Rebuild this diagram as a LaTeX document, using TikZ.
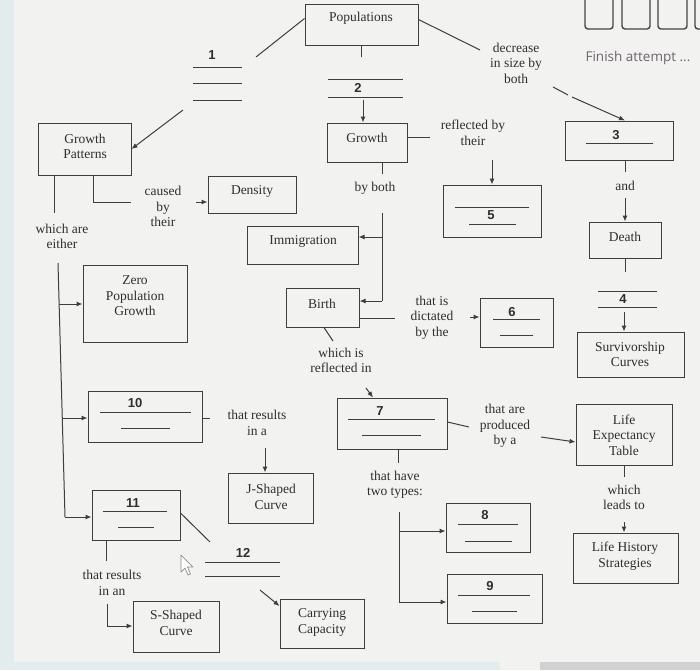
\documentclass[tikz,border=0pt]{standalone}
\usepackage{fontspec}
\setmainfont{Liberation Serif}
\newfontfamily\numfont{Liberation Sans}
\newfontfamily\uifont{Open Sans}
\usetikzlibrary{arrows.meta}
\definecolor{bg}{HTML}{F2F2F0}
\definecolor{linec}{HTML}{3E3E3E}
\definecolor{txtc}{HTML}{2E2E2E}
\definecolor{uic}{HTML}{6E6470}
\definecolor{strip}{HTML}{E3ECEC}
\definecolor{navc}{HTML}{444444}
\begin{document}
\begin{tikzpicture}[x=1pt,y=-1pt,
 box/.style={draw=linec,line width=1pt,inner sep=0pt},
 txt/.style={text=txtc,align=center,inner sep=0pt,font=\fontsize{13.5}{15.5}\selectfont},
 num/.style={text=txtc,inner sep=0pt,font=\numfont\bfseries\fontsize{13}{15}\selectfont},
 ln/.style={draw=linec,line width=1pt},
 arr/.style={ln,-{Latex[length=6pt,width=5pt]}},
 blank/.style={draw=linec,line width=0.9pt},
 nav/.style={draw=navc,line width=1.4pt,rounded corners=3pt},
]
\useasboundingbox (0,0) rectangle (700,670);
\fill[bg] (0,0) rectangle (700,670);
\fill[strip] (0,0) rectangle (14,670);
\fill[strip] (0,662) rectangle (500,670);
\fill[black!18] (540,662) rectangle (700,670);

% quiz overlay
\draw[nav] (585,-6) rectangle (613,29);
\draw[nav] (622,-6) rectangle (650,29);
\draw[nav] (658,-6) rectangle (687,29);
\draw[nav] (695,-6) rectangle (712,29);
\node[text=uic,inner sep=0pt,font=\uifont\fontsize{13.5}{15}\selectfont] (finish) at (638,58) {Finish attempt ...};

% boxes
\node[box,minimum width=113pt,minimum height=41pt] (pop) at (361.5,24.5) {};
\node[txt] (popt) at (361,18) {Populations};
\node[box,minimum width=93pt,minimum height=52pt] (gp) at (84.5,149) {};
\node[txt] (gpt) at (85,146.5) {Growth\\Patterns};
\node[box,minimum width=80pt,minimum height=39pt] (growth) at (367,142.5) {};
\node[txt] (growtht) at (367,138) {Growth};
\node[box,minimum width=88pt,minimum height=37pt] (density) at (252,194.5) {};
\node[txt] (densityt) at (252,191) {Density};
\node[box,minimum width=111pt,minimum height=38pt] (immig) at (302.5,245) {};
\node[txt] (immigt) at (303,241) {Immigration};
\node[box,minimum width=73pt,minimum height=39pt] (birth) at (322.5,307.5) {};
\node[txt] (birtht) at (322,304) {Birth};
\node[box,minimum width=104pt,minimum height=77pt] (zpg) at (135,303.5) {};
\node[txt] (zpgt) at (135,296) {Zero\\Population\\Growth};
\node[box,minimum width=114pt,minimum height=51pt] (b10) at (145,416.5) {};
\node[box,minimum width=85pt,minimum height=50pt] (jshape) at (270.5,498) {};
\node[txt] (jshapet) at (271,497) {J-Shaped\\Curve};
\node[box,minimum width=88pt,minimum height=50pt] (b11) at (136,515) {};
\node[box,minimum width=84pt,minimum height=49pt] (carry) at (322,623.5) {};
\node[txt] (carryt) at (322,622.5) {Carrying\\Capacity};
\node[box,minimum width=86pt,minimum height=51pt] (sshape) at (176,626.5) {};
\node[txt] (sshapet) at (176,623) {S-Shaped\\Curve};
\node[box,minimum width=108pt,minimum height=39pt] (b3) at (619,140.5) {};
\node[box,minimum width=72pt,minimum height=36pt] (death) at (625,240) {};
\node[txt] (deatht) at (625,237) {Death};
\node[box,minimum width=98pt,minimum height=52pt] (b5) at (492,211) {};
\node[box,minimum width=73pt,minimum height=49pt] (b6) at (516.5,322.5) {};
\node[box,minimum width=107pt,minimum height=45pt] (surv) at (630.5,354.5) {};
\node[txt] (survt) at (630,354.5) {Survivorship\\Curves};
\node[box,minimum width=110pt,minimum height=51pt] (b7) at (392,423.5) {};
\node[box,minimum width=96pt,minimum height=61pt] (let) at (624,434.5) {};
\node[txt] (lett) at (624,435) {Life\\Expectancy\\Table};
\node[box,minimum width=105pt,minimum height=50pt] (lhs) at (625.5,558) {};
\node[txt] (lhst) at (625,556) {Life History\\Strategies};
\node[box,minimum width=84pt,minimum height=49pt] (b8) at (488,527.5) {};
\node[box,minimum width=95pt,minimum height=49pt] (b9) at (494.5,598.5) {};

% numbered blanks inside boxes
\node[num] (n3) at (616,135) {3};
\draw[blank] (586,143) -- (653,143);
\node[num] (n5) at (491,215) {5};
\draw[blank] (455,207) -- (529,207);
\draw[blank] (469,224) -- (516,224);
\node[num] (n6) at (512,312) {6};
\draw[blank] (493,319) -- (540,319);
\draw[blank] (500,335) -- (533,335);
\node[num] (n7) at (380,411) {7};
\draw[blank] (348,419) -- (435,419);
\draw[blank] (362,435) -- (421,435);
\node[num] (n8) at (485,515) {8};
\draw[blank] (458,524) -- (518,524);
\draw[blank] (465,541) -- (512,541);
\node[num] (n9) at (490,586) {9};
\draw[blank] (458,595) -- (530,595);
\draw[blank] (472,611) -- (517,611);
\node[num] (n10) at (135,403) {10};
\draw[blank] (100,412) -- (191,412);
\draw[blank] (121,428) -- (170,428);
\node[num] (n11) at (133,503) {11};
\draw[blank] (103,511) -- (167,511);
\draw[blank] (118,527) -- (154,527);

% free blanks
\node[num] (n1) at (212,55) {1};
\draw[blank] (193,67) -- (242,67);
\draw[blank] (193,83) -- (242,83);
\draw[blank] (193,100) -- (242,100);
\node[num] (n2) at (358,88) {2};
\draw[blank] (328,79) -- (403,79);
\draw[blank] (328,97) -- (403,97);
\node[num] (n4) at (623,299) {4};
\draw[blank] (598,291) -- (657,291);
\draw[blank] (598,307) -- (657,307);
\node[num] (n12) at (243,553) {12};
\draw[blank] (205,562) -- (280,562);
\draw[blank] (205,576) -- (280,576);

% linking texts
\node[txt] (t1) at (62,236.5) {which are\\either};
\node[txt] (t2) at (163,206.5) {caused\\by\\their};
\node[txt] (t3) at (375,188) {by both};
\node[txt] (t4) at (473,133) {reflected by\\their};
\node[txt] (t5) at (516,63) {decrease\\in size by\\both};
\node[txt] (t6) at (625,186) {and};
\node[txt] (t7) at (432,317.5) {that is\\dictated\\by the};
\node[txt] (t8) at (341,360.5) {which is\\reflected in};
\node[txt] (t9) at (257,423) {that results\\in a};
\node[txt] (t10) at (505,426) {that are\\produced\\by a};
\node[txt] (t11) at (624,497.5) {which\\leads to};
\node[txt] (t12) at (395,485) {that have\\two types:};
\node[txt] (t13) at (112,583) {that results\\in an};

% connectors
\draw[ln] ([yshift=6pt]pop.west) -- (256,57);
\draw[arr] (183,110) -- (gp.east);
\draw[ln] (pop.south) -- (361.5,57);
\draw[arr] (363,100) -- (363,0 |- growth.north);
\draw[ln] ([yshift=5pt]pop.east) -- (480,50);
\draw[ln] (553,87) -- (568,95);
\draw[arr] (572,97) -- (625,0 |- b3.north);
\draw[ln] (625,0 |- b3.south) -- (625,172);
\draw[arr] (625,198) -- (625,0 |- death.north);
\draw[ln] (death.south) -- (625,272);
\draw[arr] (624,312) -- (624,0 |- surv.north);
\draw[ln] (growth.east |- 0,137) -- (430,137);
\draw[arr] (492,160) -- (b5.north);
\draw[ln] (382,0 |- growth.south) -- (382,174);
\draw[ln] (382,213) -- (382,301);
\draw[arr] (382,237) -- (immig.east |- 0,237);
\draw[arr] (382,301) -- (birth.east |- 0,301);
\draw[ln] (birth.east |- 0,318) -- (395,318);
\draw[arr] (470,317) -- (b6.west |- 0,317);
\draw[ln] (324,0 |- birth.south) -- (333,341);
\draw[arr] (366,388) -- (373,0 |- b7.north);
\draw[ln] (b7.east |- 0,422) -- (469,427);
\draw[arr] (541,437) -- (let.west |- 0,442);
\draw[ln] (let.south) -- (624,477);
\draw[arr] (624,522) -- (624,0 |- lhs.north);
\draw[ln] (398,0 |- b7.south) -- (398,463);
\draw[ln] (399,512) -- (399,602);
\draw[arr] (399,531) -- (b8.west |- 0,531);
\draw[arr] (399,602) -- (b9.west |- 0,602);
\draw[ln] (54,0 |- gp.south) -- (54,213);
\draw[ln] (93,0 |- gp.south) -- (93,202) -- (131,202);
\draw[arr] (196,202) -- (density.west |- 0,202);
\draw[ln] (58,263) -- (65,517);
\draw[arr] (59,304) -- (zpg.west |- 0,304);
\draw[arr] (62,418) -- (b10.west |- 0,418);
\draw[arr] (65,517) -- (b11.west |- 0,517);
\draw[ln] (b10.east |- 0,418) -- (210,418);
\draw[arr] (265,448) -- (265,0 |- jshape.north);
\draw[ln] (b11.east |- 0,513) -- (210,542);
\draw[arr] (260,590) -- (carry.west |- 0,606);
\draw[ln] (106,0 |- b11.south) -- (106,561);
\draw[ln] (107,604) -- (107,626);
\draw[arr] (107,626) -- (sshape.west |- 0,626);

% mouse pointer
\draw[black!45,line width=0.7pt,fill=white,line join=round] (181,555) -- (181,572) -- (185,568) -- (188,575) -- (190.5,574) -- (187.5,567) -- (193,567) -- cycle;
\end{tikzpicture}
\end{document}
